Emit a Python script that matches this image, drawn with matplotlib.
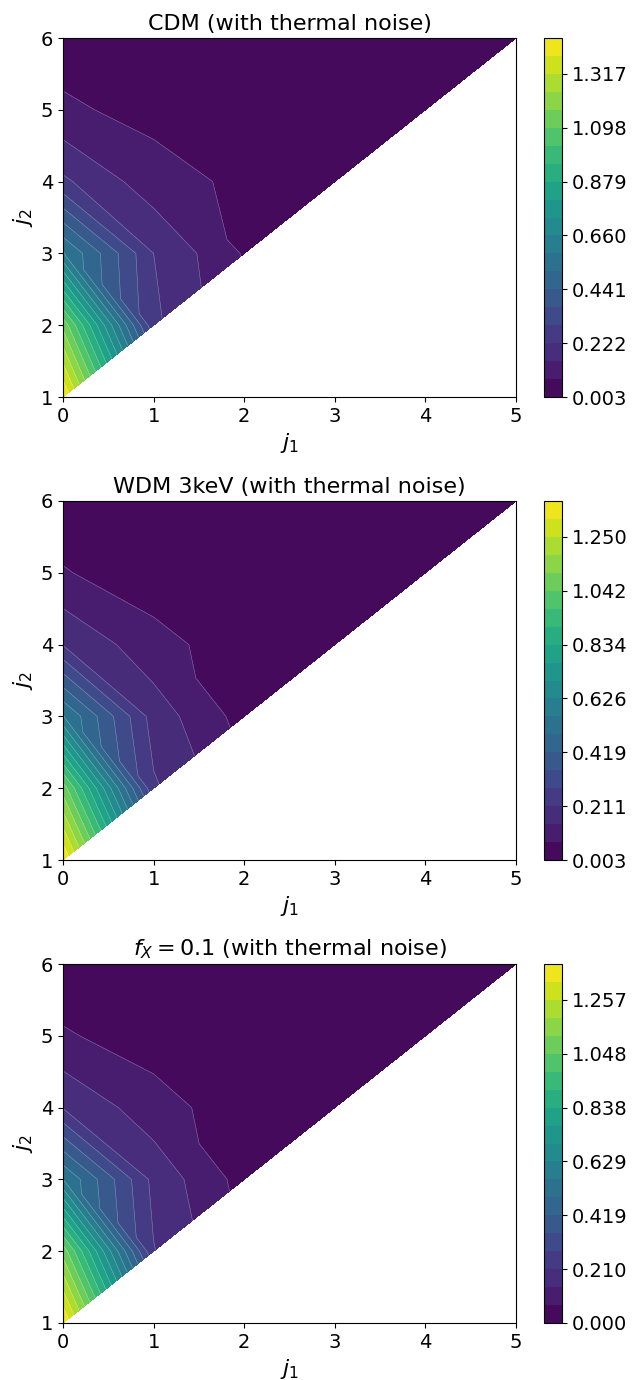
import numpy as np
import matplotlib
matplotlib.use("Agg")
import matplotlib.pyplot as plt
import matplotlib.tri as mtri

# scale pairs (j1 < j2) on which the coefficients are evaluated
j1 = [0, 0, 0, 0, 0, 0, 1, 1, 1, 1, 1, 2, 2, 2, 2, 3, 3, 3, 4, 4, 5]
j2 = [1, 2, 3, 4, 5, 6, 2, 3, 4, 5, 6, 3, 4, 5, 6, 4, 5, 6, 5, 6, 6]

cdm = [1.463, 1.15, 0.595, 0.236, 0.0873, 0.044,
       0.238, 0.222, 0.106, 0.055, 0.035,
       0.069, 0.060, 0.040, 0.025,
       0.035, 0.024, 0.015,
       0.012, 0.008,
       0.003]
wdm3 = [1.38830, 1.08, 0.563, 0.207, 0.077, 0.030,
        0.221, 0.180, 0.096, 0.034, 0.022,
        0.045, 0.035, 0.025, 0.015,
        0.020, 0.014, 0.010,
        0.008, 0.005,
        0.003]
fx01 = [1.39694, 1.09, 0.560, 0.205, 0.077, 0.025,
        0.213, 0.189, 0.098, 0.038, 0.020,
        0.042, 0.031, 0.022, 0.013,
        0.018, 0.012, 0.008,
        0.005, 0.003,
        0.0]

titles = ["CDM (with thermal noise)",
          "WDM 3keV (with thermal noise)",
          r"$f_X = 0.1$ (with thermal noise)"]
models = [cdm, wdm3, fx01]


def build_triangulation(a, b):
    # split each unit cell along its "\" diagonal, keep only j2 > j1
    idx = {(p, q): k for k, (p, q) in enumerate(zip(a, b))}
    tris = []
    for (p, q) in idx:
        A, B, C, D = (p, q), (p + 1, q), (p, q + 1), (p + 1, q + 1)
        for t in ((A, B, C), (B, D, C), (A, D, C)):
            if all(v in idx for v in t):
                if t == (A, D, C) and B in idx:
                    continue
                tris.append([idx[v] for v in t])
    return mtri.Triangulation(np.array(a, float), np.array(b, float), tris)


W, H = 644, 1380
fig = plt.figure(figsize=(W / 100, H / 100), dpi=100)

tri = build_triangulation(j1, j2)

tops = [38, 501, 964]
for top, z, title in zip(tops, models, titles):
    z = np.array(z)
    ax = fig.add_axes([63 / W, 1 - (top + 359) / H, 453 / W, 359 / H])
    cax = fig.add_axes([544 / W, 1 - (top + 359) / H, 18 / W, 359 / H])

    levels = np.linspace(z.min(), z.max(), 21)
    cs = ax.tricontourf(tri, z, levels=levels, cmap="viridis")
    # faint seams between the filled bands
    ax.tricontour(tri, z, levels=levels[1:-1], colors="white",
                  linewidths=0.4, alpha=0.35)

    ax.set_xlim(0, 5)
    ax.set_ylim(1, 6)
    ax.set_xticks(range(0, 6))
    ax.set_yticks(range(1, 7))
    ax.tick_params(labelsize=14)
    ax.set_xlabel(r"$j_1$", fontsize=16)
    ax.set_ylabel(r"$j_2$", fontsize=16)
    ax.set_title(title, fontsize=16)

    cb = fig.colorbar(cs, cax=cax, ticks=levels[::3], format="%.3f")
    cb.ax.tick_params(labelsize=14)

fig.savefig("out.png", dpi=100)
